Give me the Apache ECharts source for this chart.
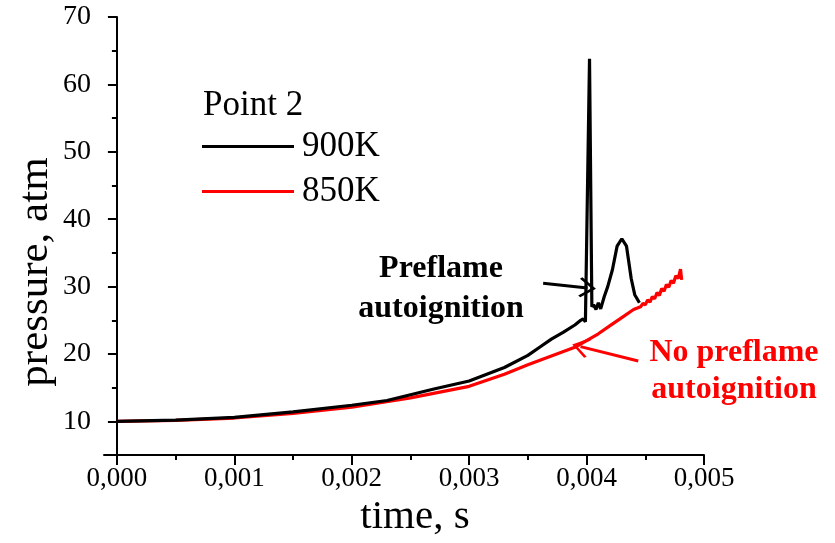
<!DOCTYPE html>
<html>
<head>
<meta charset="utf-8">
<script src="https://cdn.jsdelivr.net/npm/echarts@6/dist/echarts.min.js"></script>
<style>
  html, body { margin: 0; padding: 0; background: #fff; }
  #chart { width: 835px; height: 543px; }
</style>
</head>
<body>
<div id="chart"></div>
<script>
// Pressure traces, Point 2
const time900 = [0, 0.0005, 0.001, 0.0015, 0.002, 0.0023, 0.0027, 0.003, 0.0033, 0.0035, 0.0036, 0.0037, 0.0038, 0.0039,
  0.00395, 0.00397, 0.00399, 0.004005, 0.004025, 0.004045, 0.00406, 0.00408, 0.0041, 0.00412, 0.00415, 0.00418,
  0.00422, 0.00426, 0.0043, 0.00434, 0.00438, 0.00441, 0.00445];
const p900 = [10.0, 10.2, 10.6, 11.4, 12.4, 13.1, 14.8, 16.0, 18.0, 19.8, 21.0, 22.2, 23.2, 24.3,
  25.0, 25.2, 24.8, 24.6, 63.8, 27.0, 27.3, 26.6, 27.6, 26.7, 28.5, 30.0,
  32.5, 36.0, 37.1, 36.0, 31.2, 28.8, 27.6];

const time850 = [0, 0.0005, 0.001, 0.0015, 0.002, 0.0025, 0.003, 0.0033, 0.0035, 0.0037, 0.0039, 0.004, 0.0041,
  0.0042, 0.0043, 0.0044, 0.00446, 0.00448, 0.0045, 0.00452, 0.00454, 0.00456, 0.00458, 0.0046, 0.00462,
  0.00464, 0.00466, 0.00468, 0.0047, 0.00472, 0.00474, 0.00476, 0.00478, 0.0048, 0.00481];
const p850 = [10.0, 10.15, 10.5, 11.2, 12.1, 13.5, 15.2, 17.0, 18.4, 19.7, 21.0, 22.0, 23.0,
  24.2, 25.4, 26.6, 27.0, 27.5, 27.3, 28.0, 27.7, 28.5, 28.2, 29.1, 28.7,
  29.7, 29.3, 30.3, 29.9, 30.9, 30.5, 31.6, 31.2, 32.6, 31.0];

const xTicks = [0, 0.001, 0.002, 0.003, 0.004, 0.005];
const xMinorTicks = [0.0005, 0.0015, 0.0025, 0.0035, 0.0045];
const yTicks = [10, 20, 30, 40, 50, 60, 70];
const yMinorTicks = [15, 25, 35, 45, 55, 65];

const serif = '"Liberation Serif", "Times New Roman", serif';
const zip = (xs, ys) => xs.map((x, i) => [x, ys[i]]);

// open V-shaped arrow head, pointing up in symbol space
const arrowHead = 'path://M0,0 L9,9 L7.6,10.4 L0,2.8 L-7.6,10.4 L-9,9 Z';

const chart = echarts.init(document.getElementById('chart'));
const xMin = -0.00011, xMax = 0.005, yMin = 5, yMax = 70;

const axisBase = { show: true, lineStyle: { color: '#000', width: 2 } };

chart.setOption({
  animation: false,
  backgroundColor: '#fff',
  grid: { left: 104, right: 131, top: 17, bottom: 85 },
  title: {
    text: 'Point 2', left: 203, top: 88, padding: 0,
    textStyle: { fontFamily: serif, fontSize: 35, fontWeight: 'normal', color: '#000' }
  },
  legend: {
    orient: 'vertical', left: 202, top: 129, padding: 0,
    icon: 'rect', itemWidth: 92, itemHeight: 3, itemGap: 10,
    textStyle: { fontFamily: serif, fontSize: 35, color: '#000', padding: [0, 0, 0, 3] },
    data: ['900K', '850K']
  },
  xAxis: [{
    type: 'value', min: xMin, max: xMax,
    name: 'time, s', nameLocation: 'middle', nameGap: 40,
    nameTextStyle: { fontFamily: serif, fontSize: 41, color: '#000', padding: [0, 0, 0, 22] },
    axisLine: axisBase,
    axisTick: { show: true, customValues: xTicks, length: 10, inside: false, lineStyle: { color: '#000', width: 2 } },
    axisLabel: { customValues: xTicks, fontFamily: serif, fontSize: 27, color: '#000', margin: 10,
      formatter: v => v.toFixed(3).replace('.', ',') },
    splitLine: { show: false }
  }, {
    type: 'value', min: xMin, max: xMax, position: 'bottom',
    axisLine: { show: false },
    axisTick: { show: true, customValues: xMinorTicks, length: 5, lineStyle: { color: '#000', width: 2 } },
    axisLabel: { show: false }, splitLine: { show: false }
  }],
  yAxis: [{
    type: 'value', min: yMin, max: yMax,
    name: 'pressure, atm', nameLocation: 'middle', nameGap: 47, nameRotate: 90, nameMoveOverlap: false,
    nameTextStyle: { fontFamily: serif, fontSize: 43, color: '#000', padding: [0, 72, 0, 0] },
    axisLine: axisBase,
    axisTick: { show: true, customValues: yTicks, length: 9, lineStyle: { color: '#000', width: 2 } },
    axisLabel: { customValues: yTicks, fontFamily: serif, fontSize: 28, color: '#000', margin: 13 },
    splitLine: { show: false }
  }, {
    type: 'value', min: yMin, max: yMax, position: 'left',
    axisLine: { show: false },
    axisTick: { show: true, customValues: yMinorTicks, length: 5, lineStyle: { color: '#000', width: 2 } },
    axisLabel: { show: false }, splitLine: { show: false }
  }],
  series: [{
    name: '900K', type: 'line', symbol: 'none', z: 3,
    data: zip(time900, p900),
    lineStyle: { color: '#000', width: 3.2 }, itemStyle: { color: '#000' },
    markLine: {
      silent: true, symbol: ['none', arrowHead], symbolSize: [20, 17],
      lineStyle: { color: '#000', width: 3, type: 'solid' }, label: { show: false },
      data: [[{ coord: [0.00363, 30.5] }, { coord: [0.004008, 29.8] }]]
    }
  }, {
    name: '850K', type: 'line', symbol: 'none', z: 2,
    data: zip(time850, p850),
    lineStyle: { color: '#ff0000', width: 3.2 }, itemStyle: { color: '#ff0000' },
    markLine: {
      silent: true, symbol: ['none', arrowHead], symbolSize: [20, 17],
      lineStyle: { color: '#ff0000', width: 3, type: 'solid' }, label: { show: false },
      data: [[{ coord: [0.00444, 18.95] }, { coord: [0.003948, 21.1] }]]
    }
  }],
  graphic: [
    { type: 'text', x: 441, y: 249, style: { text: 'Preflame\nautoignition', fill: '#000',
      font: 'bold 32px ' + serif, align: 'center', verticalAlign: 'top', lineHeight: 40 } },
    { type: 'text', x: 734, y: 334, style: { text: 'No preflame\nautoignition', fill: '#ff0000',
      font: 'bold 32px ' + serif, align: 'center', verticalAlign: 'top', lineHeight: 37 } }
  ]
});
</script>
</body>
</html>
